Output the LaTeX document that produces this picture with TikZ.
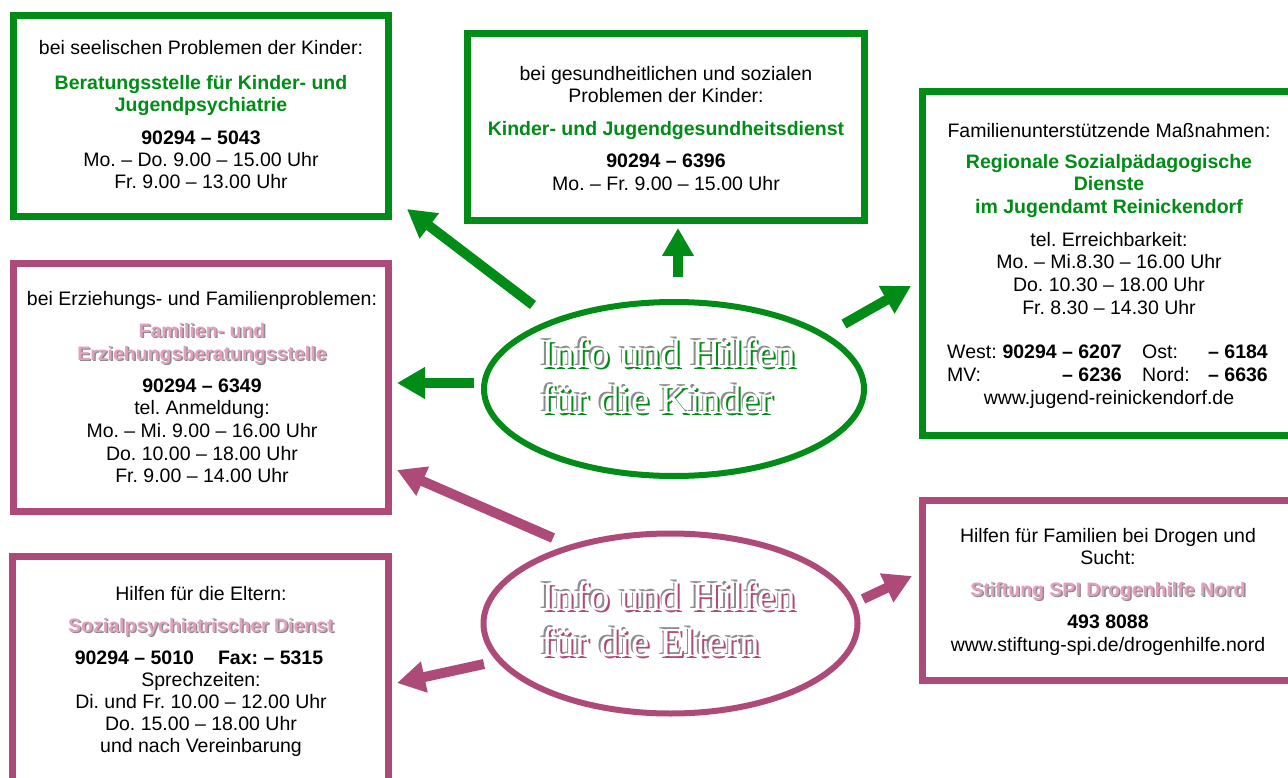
\documentclass[tikz,border=0pt]{standalone}
\usepackage{fontspec}
\setmainfont{Liberation Sans}
\newfontfamily\dekoserif{Liberation Serif}
\usetikzlibrary{arrows.meta,shapes.geometric}
\definecolor{kgreen}{RGB}{0,140,22}
\definecolor{kpink}{RGB}{174,74,120}
\definecolor{lpink}{RGB}{226,160,192}
\definecolor{shad}{RGB}{140,140,140}
\frenchspacing
\tikzset{
  gbox/.style={draw=kgreen, line width=7pt},
  pbox/.style={draw=kpink, line width=7pt},
  txt/.style={font=\fontsize{19.5}{22.5}\selectfont\frenchspacing, anchor=base, inner sep=0pt},
  btxt/.style={txt, font=\fontsize{19.5}{22.5}\selectfont\bfseries\frenchspacing},
  gtitle/.style={btxt, text=kgreen},
  ptitle/.style={btxt, text=lpink},
  pshadow/.style={btxt, text=shad},
  etxt/.style={font=\fontsize{41}{44}\dekoserif, anchor=base west, inner sep=0pt},
  garrow/.style={draw=kgreen, line width=10pt, -{Triangle[width=30pt,length=28pt]}},
  parrow/.style={draw=kpink, line width=10pt, -{Triangle[width=30pt,length=28pt]}},
  gell/.style={draw=kgreen, line width=6pt, ellipse, inner sep=0pt},
  pell/.style={draw=kpink, line width=6pt, ellipse, inner sep=0pt},
}
\newcommand\Ln[5]{\node[#4] (#1) at (#2,#3) {#5};}
\newcommand\Pt[4]{\node[pshadow] (#1s) at ({#2+1.4},{#3+1.4}) {#4};\node[ptitle] (#1) at (#2,#3) {#4};}
\newcommand\Et[5]{%
  \node[etxt,text=shad] (#1s) at ({#2-1.6},{#3-1.4}) {#5};%
  \node[etxt,text=#4] (#1o) at ({#2+2},{#3+2}) {#5};%
  \node[etxt,text=white] (#1) at (#2,#3) {#5};}
\begin{document}
\begin{tikzpicture}[x=1pt,y=-1pt]
\useasboundingbox (0,0) rectangle (1288,778);
\clip (0,0) rectangle (1288,778);
\fill[white] (0,0) rectangle (1288,778);
% boxes
\draw[gbox] (13.5,15.5) rectangle (388.5,216.5);
\draw[gbox] (467.5,33.5) rectangle (864.5,221);
\draw[gbox] (922,91.5) rectangle (1300,435);
\draw[pbox] (13.5,263.5) rectangle (388.5,511.5);
\draw[pbox] (922,500.5) rectangle (1300,680.5);
\draw[pbox] (12,556.5) rectangle (388.5,790);
% ellipses
\node[gell, minimum width=380pt, minimum height=174pt] (ek) at (674,389) {};
\node[pell, minimum width=374pt, minimum height=180pt] (ee) at (670.5,623.5) {};
\Et{ek1}{541}{367}{kgreen}{Info und Hilfen}
\Et{ek2}{541}{413}{kgreen}{für die Kinder}
\Et{ee1}{541}{610}{kpink}{Info und Hilfen}
\Et{ee2}{541}{656}{kpink}{für die Eltern}
% box 1
\Ln{b1a}{201}{55}{txt}{bei seelischen Problemen der Kinder:}
\Ln{b1b}{201}{90}{gtitle}{Beratungsstelle für Kinder- und}
\Ln{b1c}{201}{112}{gtitle}{Jugendpsychiatrie}
\Ln{b1d}{201}{145}{btxt}{90294 – 5043}
\Ln{b1e}{201}{167}{txt}{Mo. – Do. 9.00 – 15.00 Uhr}
\Ln{b1f}{201}{189}{txt}{Fr. 9.00 – 13.00 Uhr}
% box 2
\Ln{b2a}{666}{81}{txt}{bei gesundheitlichen und sozialen}
\Ln{b2b}{666}{103}{txt}{Problemen der Kinder:}
\Ln{b2c}{666}{136}{gtitle}{Kinder- und Jugendgesundheitsdienst}
\Ln{b2d}{666}{168}{btxt}{90294 – 6396}
\Ln{b2e}{666}{191}{txt}{Mo. – Fr. 9.00 – 15.00 Uhr}
% box 3
\Ln{b3a}{1109}{138}{txt}{Familienunterstützende Maßnahmen:}
\Ln{b3b}{1109}{169}{gtitle}{Regionale Sozialpädagogische}
\Ln{b3c}{1109}{191}{gtitle}{Dienste}
\Ln{b3d}{1109}{214}{gtitle}{im Jugendamt Reinickendorf}
\Ln{b3e}{1109}{247}{txt}{tel. Erreichbarkeit:}
\Ln{b3f}{1109}{269}{txt}{Mo. – Mi.8.30 – 16.00 Uhr}
\Ln{b3g}{1109}{291}{txt}{Do. 10.30 – 18.00 Uhr}
\Ln{b3h}{1109}{314}{txt}{Fr. 8.30 – 14.30 Uhr}
\Ln{b3i}{947}{358}{txt,anchor=base west}{West:}
\Ln{b3j}{1122}{358}{btxt,anchor=base east}{90294 – 6207}
\Ln{b3k}{1142}{358}{txt,anchor=base west}{Ost:}
\Ln{b3l}{1268}{358}{btxt,anchor=base east}{– 6184}
\Ln{b3m}{947}{381}{txt,anchor=base west}{MV:}
\Ln{b3n}{1122}{381}{btxt,anchor=base east}{– 6236}
\Ln{b3o}{1142}{381}{txt,anchor=base west}{Nord:}
\Ln{b3p}{1268}{381}{btxt,anchor=base east}{– 6636}
\Ln{b3q}{1109}{404}{txt}{www.jugend-reinickendorf.de}
% box 4
\Ln{b4a}{202}{305}{txt}{bei Erziehungs- und Familienproblemen:}
\Pt{b4b}{202}{337}{Familien- und}
\Pt{b4c}{202}{360}{Erziehungsberatungsstelle}
\Ln{b4d}{202}{392}{btxt}{90294 – 6349}
\Ln{b4e}{202}{414}{txt}{tel. Anmeldung:}
\Ln{b4f}{202}{437}{txt}{Mo. – Mi. 9.00 – 16.00 Uhr}
\Ln{b4g}{202}{460}{txt}{Do. 10.00 – 18.00 Uhr}
\Ln{b4h}{202}{482}{txt}{Fr. 9.00 – 14.00 Uhr}
% box 5
\Ln{b5a}{1108}{542}{txt}{Hilfen für Familien bei Drogen und}
\Ln{b5b}{1108}{564}{txt}{Sucht:}
\Pt{b5c}{1108}{596}{Stiftung SPI Drogenhilfe Nord}
\Ln{b5d}{1108}{628}{btxt}{493 8088}
\Ln{b5e}{1108}{651}{txt}{www.stiftung-spi.de/drogenhilfe.nord}
% box 6
\Ln{b6a}{201}{600}{txt}{Hilfen für die Eltern:}
\Pt{b6b}{201}{632}{Sozialpsychiatrischer Dienst}
\Ln{b6c}{199}{664}{btxt}{90294 – 5010\hspace{24pt}Fax: – 5315}
\Ln{b6d}{201}{686}{txt}{Sprechzeiten:}
\Ln{b6e}{201}{708}{txt}{Di. und Fr. 10.00 – 12.00 Uhr}
\Ln{b6f}{201}{730}{txt}{Do. 15.00 – 18.00 Uhr}
\Ln{b6g}{201}{752}{txt}{und nach Vereinbarung}
% arrow coordinates
\coordinate (a1s) at (533,305); \coordinate (a1e) at (407,209);
\coordinate (a2s) at (678,277); \coordinate (a2e) at (678,228);
\coordinate (a3s) at (844,324); \coordinate (a3e) at (911,286);
\coordinate (a4s) at (474,383); \coordinate (a4e) at (397,383);
\coordinate (a5s) at (553,538); \coordinate (a5e) at (397,470);
\coordinate (a6s) at (484,664); \coordinate (a6e) at (397,683);
\coordinate (a7s) at (863,599); \coordinate (a7e) at (912,576);
\draw[garrow] (a1s) -- (a1e);
\draw[garrow] (a2s) -- (a2e);
\draw[garrow] (a3s) -- (a3e);
\draw[garrow] (a4s) -- (a4e);
\draw[parrow] (a5s) -- (a5e);
\draw[parrow] (a6s) -- (a6e);
\draw[parrow] (a7s) -- (a7e);
\end{tikzpicture}
\end{document}
